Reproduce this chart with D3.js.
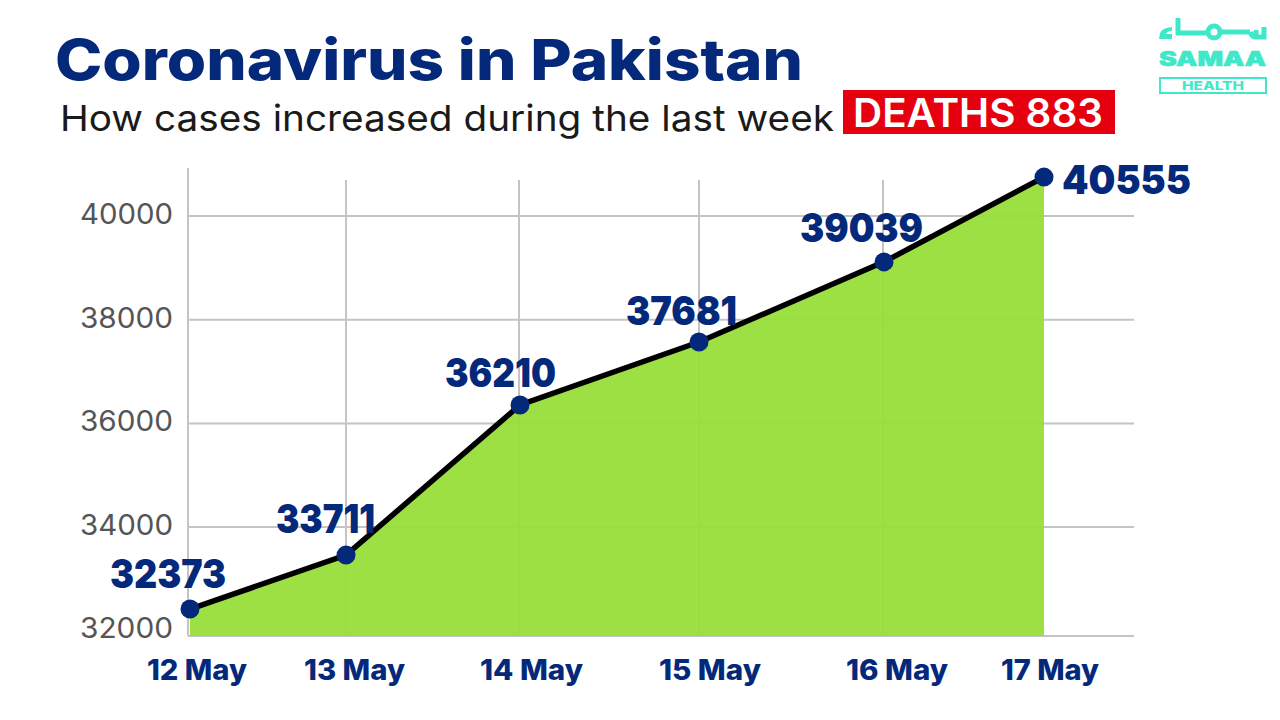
<!DOCTYPE html>
<html><head><meta charset="utf-8">
<script src="https://cdn.jsdelivr.net/npm/d3@7/dist/d3.min.js"></script>
<style>html,body{margin:0;padding:0;background:#fff}svg{display:block}text{font-family:Inter,"Noto Sans",sans-serif}</style>
</head><body><svg id="c" width="1280" height="720"></svg>
<script>
const days=["12 May","13 May","14 May","15 May","16 May","17 May"];
const plotted=[32420,33460,36355,37570,39115,40750];
const labels=["32373","33711","36210","37681","39039","40555"];
const yTicks=[32000,34000,36000,38000,40000];
const navy="#04297a", teal="#3fe8c8";
const svg=d3.select("#c");
const x=d3.scaleOrdinal().domain(days).range([190,346,520,699,884,1044]);
const y=d3.scaleLinear().domain([31900,40000]).range([636,216]);
const gridX=d3.scaleOrdinal().domain(days).range([188,346,519,699,883,1044]);

svg.append("text").attr("x",55).attr("y",80).attr("font-size",56).attr("font-weight",800).attr("fill",navy).attr("textLength",748).attr("lengthAdjust","spacingAndGlyphs").text("Coronavirus in Pakistan");
svg.append("text").attr("x",60).attr("y",131).attr("font-size",36).attr("font-weight",400).attr("fill","#1a1a1a").attr("textLength",774).attr("lengthAdjust","spacingAndGlyphs").text("How cases increased during the last week");
svg.append("rect").attr("x",843).attr("y",90).attr("width",272).attr("height",44).attr("fill","#e6000f");
svg.append("text").attr("x",978).attr("y",127).attr("text-anchor","middle").attr("font-size",40).attr("font-weight",600).attr("fill","#fff").attr("textLength",250).attr("lengthAdjust","spacingAndGlyphs").text("DEATHS 883");

// grid
svg.append("g").selectAll("line").data(yTicks.slice(1)).join("line").attr("x1",188).attr("x2",1134).attr("y1",d=>y(d)).attr("y2",d=>y(d)).attr("stroke","#c4c4c4").attr("stroke-width",2);
svg.append("line").attr("x1",188).attr("x2",1134).attr("y1",y(31900)).attr("y2",y(31900)).attr("stroke","#c4c4c4").attr("stroke-width",2);
svg.append("g").selectAll("line").data(days.slice(0,5)).join("line").attr("x1",d=>gridX(d)).attr("x2",d=>gridX(d)).attr("y1",(d,i)=>i?180:168).attr("y2",636).attr("stroke","#c4c4c4").attr("stroke-width",2);

const pts=days.map((d,i)=>({d,v:plotted[i],l:labels[i]}));
svg.append("path").datum(pts).attr("fill","#97de38").attr("fill-opacity",.94)
  .attr("d",d3.area().x(p=>x(p.d)).y0(636).y1(p=>y(p.v)));
svg.append("path").datum(pts).attr("fill","none").attr("stroke","#000").attr("stroke-width",5.5)
  .attr("d",d3.line().x(p=>x(p.d)).y(p=>y(p.v)));
svg.append("g").selectAll("circle").data(pts).join("circle").attr("cx",p=>x(p.d)).attr("cy",p=>y(p.v)).attr("r",9.5).attr("fill",navy);

// tick labels
svg.append("g").selectAll("text").data(yTicks).join("text").attr("x",173).attr("y",(d,i)=>y(d)+(i?8:7)).attr("text-anchor","end").attr("font-size",28).attr("font-weight",400).attr("fill","#555").attr("textLength",93).attr("lengthAdjust","spacingAndGlyphs").text(d=>d);
const tickC=[197,354.5,531.5,710,897,1050], tickW=[100,101,103,102,102,98];
svg.append("g").selectAll("text").data(days).join("text").attr("x",(d,i)=>tickC[i]).attr("y",680).attr("text-anchor","middle").attr("font-size",28).attr("font-weight",800).attr("fill",navy).attr("textLength",(d,i)=>tickW[i]).attr("lengthAdjust","spacingAndGlyphs").text(d=>d);

// value labels
const lblPos=[[168,588],[325.5,533],[500.5,387],[681.5,325],[861.5,242],[1126.5,194]], lblW=[116,99,111,111,123,129];
svg.append("g").selectAll("text").data(pts).join("text").attr("x",(p,i)=>lblPos[i][0]).attr("y",(p,i)=>lblPos[i][1]).attr("text-anchor","middle").attr("font-size",40).attr("font-weight",900).attr("fill",navy).attr("textLength",(p,i)=>lblW[i]).attr("lengthAdjust","spacingAndGlyphs").text(p=>p.l);

// logo
const lg=svg.append("g");
lg.append("path").attr("fill",teal).attr("d","M1159 39 L1160 33 Q1162 28 1172 27 L1172 31 Q1167 31 1166 34 L1172 34 L1172 39 Z");
lg.append("path").attr("fill","none").attr("stroke",teal).attr("stroke-width",5).attr("d","M1178 18 V33 H1208 M1208 32 a6 6 0 1 0 12 0 a6 6 0 1 0 -12 0 M1220 32 H1250 M1250 32 Q1252 37 1256 37 H1264 V27 M1256 37 V30");
lg.append("text").attr("x",1212.5).attr("y",66).attr("text-anchor","middle").attr("font-size",20).attr("font-weight",900).attr("fill",teal).attr("stroke",teal).attr("stroke-width",.6).attr("textLength",107).attr("lengthAdjust","spacingAndGlyphs").text("SAMAA");
lg.append("rect").attr("x",1160).attr("y",78).attr("width",106).attr("height",15).attr("fill","none").attr("stroke",teal).attr("stroke-width",2);
lg.append("text").attr("x",1213).attr("y",90).attr("text-anchor","middle").attr("font-size",11.5).attr("font-weight",800).attr("fill",teal).attr("textLength",62).attr("lengthAdjust","spacingAndGlyphs").text("HEALTH");
</script></body></html>
